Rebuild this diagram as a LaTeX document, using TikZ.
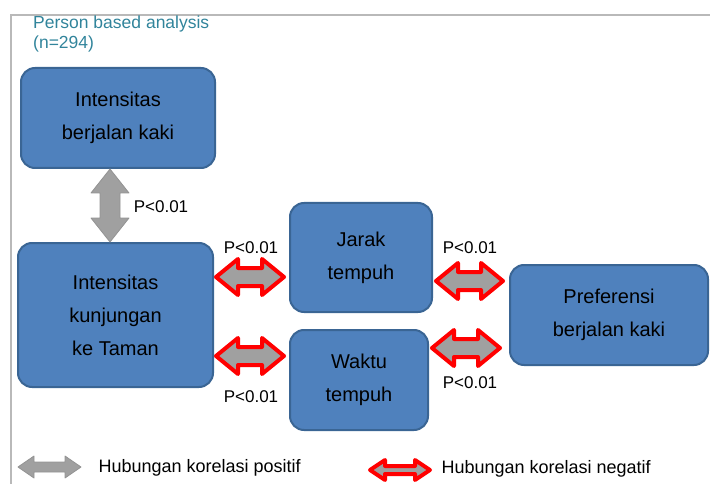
\documentclass[tikz,border=0pt]{standalone}
\usepackage{fontspec}
\setmainfont{Liberation Sans}
\usepackage{tikz}
\usetikzlibrary{calc}

\definecolor{boxblue}{HTML}{4F81BD}
\definecolor{boxedge}{HTML}{3A6594}
\definecolor{titleteal}{HTML}{31849B}
\definecolor{arrgray}{HTML}{A0A0A0}

% block double arrow from #2 to #3: style, head length, head half width, shaft half width
\newcommand{\corrarrow}[6]{%
  \draw[#1] (#2) -- ($(#2)!#4!(#3)!#5!90:(#3)$) -- ($(#2)!#4!(#3)!#6!90:(#3)$)
    -- ($(#3)!#4!(#2)!#6!-90:(#2)$) -- ($(#3)!#4!(#2)!#5!-90:(#2)$) -- (#3)
    -- ($(#3)!#4!(#2)!#5!90:(#2)$) -- ($(#3)!#4!(#2)!#6!90:(#2)$)
    -- ($(#2)!#4!(#3)!#6!-90:(#3)$) -- ($(#2)!#4!(#3)!#5!-90:(#3)$) -- cycle;}

\begin{document}
\begin{tikzpicture}[x=1pt,y=-1pt,
    block/.style={draw=boxedge,fill=boxblue,line width=2pt,rounded corners=14pt,
                  align=center,font=\fontsize{20}{33}\selectfont,inner sep=0pt},
    posarrow/.style={fill=arrgray,draw=gray!85,line width=0.8pt,line join=round},
    negarrow/.style={fill=arrgray,draw=red,line width=4pt,line join=round},
    plabel/.style={font=\fontsize{17}{20}\selectfont},
    legtext/.style={font=\fontsize{18}{20}\selectfont,anchor=west}]
  \useasboundingbox (0,0) rectangle (710,484);
  \draw[gray!55,line width=2pt] (11,484) -- (11,15) -- (710,15);

  \node[anchor=north west,align=left,text=titleteal,inner sep=0pt,
        font=\fontsize{17.5}{20}\selectfont] (title) at (33,16) {Person based analysis\\(n=294)};

  \node[block,minimum width=194pt,minimum height=100pt] (berjalan)   at (118,118)   {Intensitas\\berjalan kaki};
  \node[block,minimum width=195pt,minimum height=144pt] (taman)      at (115.5,315) {Intensitas\\kunjungan\\ke Taman};
  \node[block,minimum width=142pt,minimum height=109pt] (jarak)      at (361,257.5) {Jarak\\tempuh};
  \node[block,minimum width=138pt,minimum height=100pt] (waktu)      at (359,380)   {Waktu\\tempuh};
  \node[block,minimum width=198pt,minimum height=100pt] (preferensi) at (609,315)   {Preferensi\\berjalan kaki};

  % arrow ends
  \coordinate (bk-t) at (berjalan.south -| 110,0);
  \coordinate (tm-b) at (taman.north -| 110,0);
  \coordinate (tm-j) at ($(taman.east |- 0,277)+(2,0)$);
  \coordinate (jr-t) at ($(jarak.west |- 0,277)+(-5,0)$);
  \coordinate (tm-w) at ($(taman.east |- 0,356)+(2,0)$);
  \coordinate (wk-t) at ($(waktu.west |- 0,356)+(-5,0)$);
  \coordinate (jr-p) at ($(jarak.east |- 0,281)+(3,0)$);
  \coordinate (pf-j) at ($(preferensi.west |- 0,281)+(-6,0)$);
  \coordinate (wk-p) at ($(waktu.east |- 0,348)+(3,0)$);
  \coordinate (pf-w) at ($(preferensi.west |- 0,348)+(-9,0)$);

  \corrarrow{posarrow}{bk-t}{tm-b}{24pt}{19pt}{10pt}
  \corrarrow{negarrow}{tm-j}{jr-t}{22pt}{18pt}{9pt}
  \corrarrow{negarrow}{tm-w}{wk-t}{22pt}{18pt}{9pt}
  \corrarrow{negarrow}{jr-p}{pf-j}{22pt}{18pt}{9pt}
  \corrarrow{negarrow}{wk-p}{pf-w}{22pt}{18pt}{9pt}

  \node[plabel] (p1) at (161,207) {P<0.01};
  \node[plabel] (p2) at (251,248) {P<0.01};
  \node[plabel] (p3) at (470,248) {P<0.01};
  \node[plabel] (p4) at (251,397) {P<0.01};
  \node[plabel] (p5) at (470,383) {P<0.01};

  % legend
  \coordinate (lg1-a) at (18,467);
  \coordinate (lg1-b) at (81,467);
  \coordinate (lg2-a) at (370,470);
  \coordinate (lg2-b) at (430,470);
  \corrarrow{posarrow}{lg1-a}{lg1-b}{16pt}{11pt}{5pt}
  \corrarrow{negarrow}{lg2-a}{lg2-b}{15pt}{10pt}{4pt}
  \node[legtext] (leg1) at (95,468)  {Hubungan korelasi positif};
  \node[legtext] (leg2) at (438,469) {Hubungan korelasi negatif};
\end{tikzpicture}
\end{document}
